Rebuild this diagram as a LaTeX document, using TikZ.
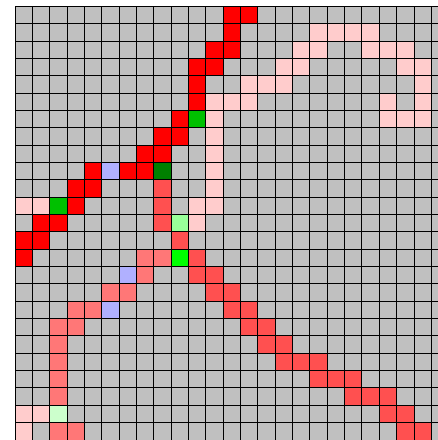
\documentclass[tikz,border=0pt]{standalone}
\usepackage{tikz}
\usepackage{xcolor}
\definecolor{cGrey}{RGB}{192,192,192}
\definecolor{cRed}{RGB}{255,0,0}
\definecolor{cPink}{RGB}{255,204,204}
\definecolor{cSalmon}{RGB}{255,80,80}
\definecolor{cLSalmon}{RGB}{255,119,119}
\definecolor{cBlue}{RGB}{176,176,255}
\definecolor{cDGreen}{RGB}{0,128,0}
\definecolor{cGreen}{RGB}{0,192,0}
\definecolor{cLime}{RGB}{0,255,0}
\definecolor{cLGreen}{RGB}{153,255,153}
\definecolor{cPGreen}{RGB}{204,255,204}
\tikzset{
	gridln/.style={draw=black, line width=0.8pt},
	% one cell of the map
	cellfill/.style={draw=none},
}
\begin{document}
\begin{tikzpicture}[x=0.5cm, y=0.5cm]
	\useasboundingbox (-0.865,0.363) rectangle (24.38,-25.0);
	\clip (-0.865,0.363) rectangle (24.38,-25.0);
	\fill[cGrey] (0,0) rectangle (25,-25);
	% red path
	\foreach \c/\r in {12/0,13/0,12/1,11/2,12/2,10/3,11/3,10/4,10/5,9/6,8/7,9/7,7/8,8/8,4/9,6/9,7/9,3/10,4/10,3/11,1/12,2/12,0/13,1/13,0/14}
		\fill[cellfill, cRed] (\c,-\r) rectangle ++(1,-1);
	% pink path
	\foreach \c/\r in {17/1,18/1,19/1,20/1,16/2,17/2,20/2,21/2,22/2,15/3,16/3,22/3,23/3,13/4,14/4,15/4,23/4,11/5,12/5,13/5,21/5,23/5,11/6,21/6,22/6,23/6,11/7,11/8,11/9,11/10,10/11,11/11,0/11,1/11,10/12,0/23,1/23,0/24}
		\fill[cellfill, cPink] (\c,-\r) rectangle ++(1,-1);
	% salmon path
	\foreach \c/\r in {8/10,8/11,8/12,9/13,10/14,10/15,11/15,11/16,12/16,12/17,13/17,13/18,14/18,14/19,15/19,15/20,16/20,17/20,17/21,18/21,19/21,19/22,20/22,21/22,21/23,22/23,22/24,23/24}
		\fill[cellfill, cSalmon] (\c,-\r) rectangle ++(1,-1);
	% light salmon path
	\foreach \c/\r in {7/14,8/14,7/15,5/16,6/16,3/17,4/17,2/18,3/18,2/19,2/20,2/21,2/22,2/24,3/24}
		\fill[cellfill, cLSalmon] (\c,-\r) rectangle ++(1,-1);
	% single marks
	\foreach \c/\r in {5/9,6/15,5/17}
		\fill[cellfill, cBlue] (\c,-\r) rectangle ++(1,-1);
	\foreach \c/\r in {10/6,2/11}
		\fill[cellfill, cGreen] (\c,-\r) rectangle ++(1,-1);
	\fill[cellfill, cDGreen] (8,-9) rectangle ++(1,-1);
	\fill[cellfill, cLime] (9,-14) rectangle ++(1,-1);
	\fill[cellfill, cLGreen] (9,-12) rectangle ++(1,-1);
	\fill[cellfill, cPGreen] (2,-23) rectangle ++(1,-1);
	% grid lines
	\foreach \i in {0,...,25} {
		\draw[gridln] (\i,0) -- (\i,-25);
		\draw[gridln] (0,-\i) -- (25,-\i);
	}
\end{tikzpicture}
\end{document}
